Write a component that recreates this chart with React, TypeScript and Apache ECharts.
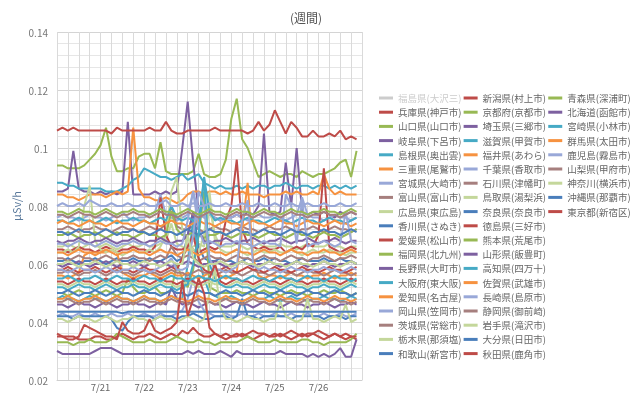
import React, { useEffect, useRef } from "react";
import * as echarts from "echarts";

// Tick labels / categories: 3-hourly points from 7/20 00:00 to 7/27 00:00
const days = ["7/20", "7/21", "7/22", "7/23", "7/24", "7/25", "7/26"];
const hours = ["00:00", "03:00", "06:00", "09:00", "12:00", "15:00", "18:00", "21:00"];
const categories: string[] = [];
days.forEach((d) => hours.forEach((h) => categories.push(d + " " + h)));
categories.push("7/27 00:00");

const names = [
  "福島県(大沢三)", "兵庫県(神戸市)", "山口県(山口市)", "岐阜県(下呂市)", "島根県(奥出雲)", "三重県(尾鷲市)",
  "宮城県(大崎市)", "富山県(富山市)", "広島県(東広島)", "香川県(さぬき)", "愛媛県(松山市)", "福岡県(北九州)",
  "長野県(大町市)", "大阪府(東大阪)", "愛知県(名古屋)", "岡山県(笠岡市)", "茨城県(常総市)", "栃木県(那須塩)",
  "和歌山(新宮市)", "新潟県(村上市)", "京都府(京都市)", "埼玉県(三郷市)", "滋賀県(甲賀市)", "福井県(あわら)",
  "千葉県(香取市)", "石川県(津幡町)", "鳥取県(湯梨浜)", "奈良県(奈良市)", "徳島県(三好市)", "熊本県(荒尾市)",
  "山形県(飯豊町)", "高知県(四万十)", "佐賀県(武雄市)", "長崎県(島原市)", "静岡県(御前崎)", "岩手県(滝沢市)",
  "大分県(日田市)", "秋田県(鹿角市)", "青森県(深浦町)", "北海道(函館市)", "宮崎県(小林市)", "群馬県(太田市)",
  "鹿児島(霧島市)", "山梨県(甲府市)", "神奈川(横浜市)", "沖縄県(那覇市)", "東京都(新宿区)",
];

// values in nSv/h (divide by 1000 for μSv/h)
const fukushima: number[] = [];
const hyogo = [36,35,35,35,34,34,34,35, 35,34,34,35,36,35,34,35, 35,36,35,34,35,36,35,37, 36,38,36,35,35,36,35,34, 35,35,36,35,34,35,36,35, 35,36,35,34,35,36,35,36, 35,34,35,36,35,34,35,34];
const yamaguchi = [94,94,93,93,93,94,96,98, 101,107,97,92,92,93,93,97, 98,98,93,102,92,91,91,91, 91,92,98,91,90,90,91,96, 110,117,103,100,95,90,91,92, 91,90,91,91,90,92,91,90, 91,91,92,93,95,96,90,99];
const gifu = [85,85,86,99,86,85,85,84, 85,84,85,84,85,109,84,84, 84,84,85,84,85,84,85,100, 116,95,78,76,77,76,75,76, 76,77,76,78,77,80,105,78, 77,78,95,80,100,78,77,78, 77,78,77,76,78,77,78,77];
const shimane = [88,88,87,87,86,86,86,86, 86,85,85,85,86,87,89,90, 93,92,91,90,90,89,90,91, 89,90,91,88,87,86,87,86, 86,87,86,87,86,87,87,86, 87,87,88,87,86,87,87,86, 87,87,86,87,86,87,86,87];
const mie = [84,84,83,83,82,83,84,84, 84,83,84,85,84,85,107,86, 83,83,82,82,83,82,81,82, 84,85,85,84,85,85,84,85, 84,84,85,84,84,84,83,84, 84,84,85,84,85,84,84,85, 84,91,86,84,85,84,84,84];
const miyagi = [76,77,76,76,75,76,77,76, 76,75,76,77,78,76,75,76, 76,77,78,84,77,76,75,76, 77,85,78,76,77,76,75,76, 76,77,76,75,76,77,76,76, 77,76,75,76,77,83,77,76, 76,75,76,77,76,76,75,76];
const toyama = [72,72,73,72,71,72,72,73, 72,72,71,72,73,72,72,71, 72,73,72,72,74,80,73,72, 72,73,72,71,72,73,72,72, 71,72,73,72,72,71,72,73, 72,72,73,72,71,72,72,73, 72,71,72,73,72,72,71,72];
const hiroshima = [66,66,67,66,65,66,67,66, 66,67,66,65,66,67,66,66, 67,66,66,67,68,74,67,66, 65,66,67,66,80,70,66,66, 66,67,66,65,66,67,66,66, 66,67,66,66,65,66,67,66, 66,66,67,66,66,65,66,66];
const kagawa = [61,61,62,61,60,61,61,62, 61,60,61,62,61,61,62,61, 61,62,61,61,62,63,61,62, 70,78,66,62,61,61,62,61, 61,60,61,62,61,61,62,61, 62,61,61,60,61,62,61,61, 61,62,61,61,62,61,61,60];
const ehime = [65,65,64,65,66,65,65,64, 65,66,65,64,65,65,66,65, 65,64,66,83,70,66,65,65, 66,65,64,65,66,65,66,75, 80,96,72,67,66,65,66,65, 65,66,64,65,66,65,67,66, 70,93,66,65,64,65,66,65];
const fukuoka = [50,50,49,50,51,50,50,49, 50,51,50,49,50,55,52,50, 50,51,52,50,50,51,60,55, 52,58,70,85,52,51,50,50, 50,51,50,50,49,50,51,50, 50,49,50,51,50,50,49,50, 50,51,50,50,51,50,49,50];
const nagano = [46,46,45,46,47,46,46,45, 46,47,46,45,46,46,47,46, 46,45,46,47,46,52,48,46, 47,46,45,46,47,46,46,45, 46,47,46,46,45,46,47,46, 46,45,46,47,46,46,45,46, 46,47,46,45,46,46,47,46];
const osaka = [48,49,48,48,47,48,49,48, 48,47,48,49,48,48,47,48, 49,48,48,47,48,49,48,48, 60,75,62,55,50,49,48,48, 49,48,47,48,49,48,48,49, 48,47,48,49,48,48,47,48, 48,49,48,48,47,48,49,48];
const aichi = [56,56,55,56,57,63,64,64, 64,64,65,64,57,56,55,56, 56,57,56,55,56,57,56,56, 57,56,55,56,57,56,56,55, 56,57,72,88,62,56,55,56, 56,55,56,57,56,56,55,56, 56,57,56,55,56,56,57,56];
const okayama = [42,43,42,42,43,42,42,43, 42,42,43,42,42,43,42,42, 43,42,42,43,42,42,43,44, 48,55,47,44,43,42,42,43, 42,42,43,42,42,43,42,42, 43,42,42,43,42,42,43,42, 42,43,42,42,43,42,42,43];
const ibaraki = [62,62,61,62,63,62,62,61, 62,63,62,61,62,62,63,62, 62,61,62,63,62,66,63,62, 63,62,61,62,63,62,62,61, 62,63,62,62,61,62,63,62, 62,61,62,63,62,62,61,62, 62,63,62,61,62,62,63,62];
const tochigi = [64,64,65,64,66,80,87,68, 65,64,65,64,63,64,65,64, 64,65,64,66,70,85,90,72, 66,65,64,70,85,68,65,64, 64,65,64,63,64,65,64,64, 65,64,64,65,64,63,64,65, 64,64,65,64,64,63,64,64];
const wakayama = [42,42,42,41,42,42,42,42, 42,42,41,38,37,40,42,42, 42,42,41,42,42,42,41,42, 42,43,42,41,41,42,42,42, 41,42,48,42,42,41,42,42, 42,42,42,41,42,42,42,42, 42,41,42,42,42,41,42,42];
const niigata = [106,107,106,107,106,106,106,106, 106,106,105,107,106,106,106,106, 106,107,106,106,109,106,105,105, 106,106,106,106,106,107,106,106, 106,106,106,105,106,109,106,108, 113,109,105,109,107,104,104,106, 104,104,105,104,106,103,104,103];
const kyoto = [70,70,71,70,69,70,70,71, 70,69,70,71,70,70,69,70, 71,70,70,69,70,78,72,70, 70,71,70,69,70,70,71,70, 69,70,71,70,70,69,70,71, 70,70,69,70,71,70,70,69, 70,71,70,70,69,70,71,72];
const saitama = [68,67,68,68,69,68,67,68, 68,69,68,67,68,68,69,68, 67,68,68,69,68,67,68,68, 70,78,72,68,67,68,68,69, 68,67,68,68,69,68,67,68, 68,69,68,67,68,68,69,68, 67,68,68,69,68,67,68,68];
const shiga = [75,75,74,75,76,75,75,74, 75,76,75,74,75,75,76,75, 75,74,75,76,75,80,76,75, 76,75,74,90,78,75,76,75, 75,74,75,76,75,75,74,75, 76,75,75,74,75,76,75,75, 74,75,76,75,75,74,75,76];
const fukui = [74,75,74,74,73,74,75,74, 74,73,74,75,74,74,73,74, 75,74,74,73,74,75,74,74, 73,74,75,74,74,73,74,75, 74,74,73,74,75,74,74,73, 74,75,74,74,73,74,75,74, 74,73,74,75,74,74,73,74];
const chiba = [67,67,66,67,68,67,67,66, 67,68,67,66,67,67,68,67, 67,66,67,68,67,67,66,67, 75,85,72,67,68,67,66,67, 67,68,67,67,66,67,68,67, 67,66,84,80,67,82,66,67, 67,68,67,66,67,78,68,67];
const ishikawa = [57,57,58,57,56,57,57,58, 57,56,57,58,57,57,56,57, 58,57,57,56,57,58,57,57, 56,57,58,57,57,56,57,58, 57,57,56,57,58,57,57,56, 57,58,57,57,56,57,58,57, 57,56,57,58,57,57,56,57];
const tottori = [53,53,52,53,54,53,53,52, 53,54,53,52,53,53,54,53, 53,52,53,54,53,53,52,53, 54,53,52,53,54,53,53,52, 53,54,53,53,52,53,54,53, 53,52,53,54,53,53,52,53, 53,54,53,53,52,53,54,53];
const nara = [71,71,70,71,72,71,71,70, 71,72,71,70,71,71,72,71, 71,70,71,72,71,71,70,71, 72,71,70,71,72,71,71,70, 71,72,71,71,70,71,72,71, 71,70,71,72,71,71,70,71, 71,72,71,71,70,71,72,71];
const tokushima = [58,58,59,58,57,58,58,59, 58,57,58,59,58,58,57,58, 59,58,58,57,58,59,58,62, 66,70,62,58,57,58,58,59, 58,57,58,59,58,58,57,58, 59,58,58,57,58,59,58,58, 57,58,59,58,58,57,58,59];
const kumamoto = [33,33,33,32,33,33,34,33, 33,33,34,36,35,34,33,33, 33,34,33,33,33,34,35,34, 33,33,34,33,33,32,33,33, 33,33,34,35,34,33,33,33, 34,33,33,33,33,34,34,33, 33,32,33,33,33,33,34,36];
const yamagata = [60,59,60,60,61,60,59,60, 60,61,60,59,60,60,61,60, 59,60,60,61,60,59,60,60, 61,60,59,60,60,61,60,59, 60,60,61,60,59,60,60,61, 60,59,60,60,61,60,59,60, 60,61,60,59,60,60,61,60];
const kochi = [52,52,51,52,53,52,52,51, 52,53,52,51,52,52,53,52, 52,51,52,53,52,52,51,52, 53,60,70,90,60,55,53,52, 52,53,52,52,51,52,53,52, 52,51,52,53,52,52,51,52, 52,53,52,52,51,52,53,52];
const saga = [64,64,63,64,65,64,64,63, 64,65,64,63,64,64,65,64, 64,63,64,65,64,64,63,64, 65,64,63,64,65,64,64,63, 64,65,64,64,63,64,65,64, 64,63,64,65,64,64,63,64, 64,65,64,64,63,64,65,64];
const nagasaki = [58,58,57,58,59,58,58,57, 58,59,58,57,58,58,59,58, 58,57,58,59,60,62,58,58, 59,70,85,80,62,58,58,57, 58,59,75,82,60,58,59,58, 58,57,58,59,58,58,57,58, 58,59,58,58,57,58,59,58];
const shizuoka = [47,47,48,47,46,47,47,48, 47,46,47,48,47,47,46,47, 48,47,47,46,47,48,47,47, 46,47,48,47,47,46,47,48, 47,47,46,47,48,47,47,46, 47,48,47,47,46,47,48,47, 47,46,47,48,47,47,46,47];
const iwate = [41,41,40,41,42,41,41,40, 41,42,41,40,41,41,42,41, 41,40,41,42,41,41,40,41, 42,41,40,41,50,58,45,41, 41,40,41,42,41,41,40,41, 41,47,42,41,40,41,48,41, 41,40,41,42,41,46,40,41];
const oita = [50,50,51,50,49,50,50,51, 50,49,50,51,50,50,49,50, 51,50,50,49,50,51,50,50, 49,50,51,50,50,49,50,51, 50,50,49,50,51,50,50,49, 50,51,50,50,49,50,51,50, 50,49,50,51,50,50,49,50];
const akita = [54,54,53,54,55,54,54,53, 54,55,54,53,54,54,55,54, 54,53,54,55,54,54,53,54, 55,54,53,54,55,60,54,53, 54,55,54,54,53,54,55,54, 54,53,54,55,54,54,53,54, 54,55,54,54,53,54,55,54];
const aomori = [78,78,77,78,79,78,78,77, 78,79,78,77,78,78,79,78, 78,77,78,79,78,78,77,78, 79,78,77,78,79,78,78,77, 78,79,78,78,77,78,79,78, 78,77,78,79,78,78,77,78, 78,79,78,78,77,78,79,78];
const hokkaido = [30,29,29,29,29,29,29,30, 31,31,31,30,29,29,29,29, 29,29,29,29,29,29,29,29, 30,29,30,29,29,29,30,29, 28,30,29,29,29,29,29,29, 29,30,29,29,29,29,28,29, 28,29,28,29,31,28,28,34];
const miyazaki = [55,55,56,55,54,55,55,56, 55,54,55,56,55,55,54,55, 56,55,55,54,55,56,55,55, 54,55,56,55,55,54,55,56, 55,55,54,55,56,55,55,54, 55,56,55,55,54,55,56,55, 55,54,55,56,55,55,54,55];
const gunma = [48,48,49,48,47,48,48,49, 48,47,48,49,48,48,47,48, 49,48,48,47,48,49,48,48, 47,48,49,48,48,47,48,49, 48,48,47,48,49,48,48,47, 48,49,48,48,47,48,49,48, 48,47,48,49,48,48,47,48];
const kagoshima = [80,81,80,80,81,80,82,81, 80,80,81,80,80,81,80,80, 81,80,80,81,82,80,80,81, 80,81,80,80,81,80,80,81, 80,80,81,80,80,81,80,80, 81,80,80,81,80,80,81,80, 80,81,80,80,81,80,80,81];
const yamanashi = [77,77,76,77,78,77,77,76, 77,78,77,76,77,77,78,77, 77,76,77,78,77,77,76,77, 78,77,76,77,78,77,77,76, 77,78,77,77,76,77,78,77, 77,76,77,78,77,77,76,77, 77,78,77,77,76,77,78,77];
const kanagawa = [60,60,61,60,59,60,60,61, 60,59,60,61,60,60,59,60, 61,60,60,59,60,61,60,60, 70,62,60,59,60,60,61,60, 59,60,61,60,60,59,60,61, 60,60,59,60,61,60,60,59, 60,61,60,60,59,60,61,60];
const okinawa = [43.5,43.5,43.5,43.5,43.5,43.5,43.5,43.5, 43.5,43.5,43.5,43.5,43,43.5,43.5,43.5, 43.5,43.5,43.5,43.5,43.5,43.5,43.5,43.5, 43.5,43.5,43.5,43.5,43.5,43.5,43.5,43.5, 43.5,43.5,43.5,43.5,43.5,43.5,43.5,43.5, 43.5,43.5,43.5,43.5,43.5,43.5,43.5,43.5, 43.5,43.5,43.5,43.5,43.5,43.5,43.5,43.5];
const tokyo = [35,35,34,34,35,39,38,37, 36,35,35,34,40,37,36,36, 37,41,37,36,37,38,40,54, 42,48,55,50,38,36,35,36, 35,36,35,36,37,36,36,35, 36,35,36,37,36,35,36,36, 37,36,35,36,35,36,35,35];

const seriesValues = [
  fukushima, hyogo, yamaguchi, gifu, shimane, mie, miyagi, toyama, hiroshima, kagawa, ehime, fukuoka,
  nagano, osaka, aichi, okayama, ibaraki, tochigi, wakayama, niigata, kyoto, saitama, shiga, fukui,
  chiba, ishikawa, tottori, nara, tokushima, kumamoto, yamagata, kochi, saga, nagasaki, shizuoka, iwate,
  oita, akita, aomori, hokkaido, miyazaki, gunma, kagoshima, yamanashi, kanagawa, okinawa, tokyo,
];

const palette = ["#4a7ebb", "#be4b48", "#98b954", "#7d60a0", "#46aac5", "#f69240", "#99a8d8", "#a67f7e", "#c4d79b"];

export default function App() {
  const ref = useRef<HTMLDivElement>(null);
  useEffect(() => {
    if (!ref.current) return;
    const chart = echarts.init(ref.current, undefined, { renderer: "svg" });
    const font = '"Noto Sans CJK JP", "Noto Sans", sans-serif';
    chart.setOption({
      animation: false,
      color: palette,
      textStyle: { fontFamily: font },
      title: {
        text: "(週間)",
        left: 285,
        top: 6,
        textStyle: { fontSize: 12, fontWeight: "normal", color: "#555", fontFamily: font },
      },
      grid: { left: 57, top: 32, width: 305, height: 348 },
      legend: {
        type: "plain",
        orient: "vertical",
        left: 374,
        top: 87,
        height: 272,
        itemWidth: 14,
        itemHeight: 3,
        itemGap: 2.2,
        icon: "rect",
        inactiveColor: "#ccc",
        selected: { "福島県(大沢三)": false },
        textStyle: { fontSize: 9.5, color: "#666", lineHeight: 12, fontFamily: font },
        data: names,
      },
      xAxis: {
        type: "category",
        data: categories,
        boundaryGap: false,
        axisTick: { show: false },
        axisLine: { lineStyle: { color: "#cfcfcf" } },
        axisLabel: {
          interval: (i: number) => i % 8 === 0 && i > 0 && i < 56,
          formatter: (v: string) => v.split(" ")[0],
          color: "#666",
          fontSize: 9.5,
          lineHeight: 10,
          margin: 2,
        },
        splitLine: { show: true, interval: (i: number) => i % 2 === 0, lineStyle: { color: "#dadada" } },
      },
      yAxis: {
        type: "value",
        min: 0.02,
        max: 0.14,
        interval: 0.02,
        name: "μSv/h",
        nameLocation: "middle",
        nameGap: 36,
        nameTextStyle: { color: "#5b7a9c", fontSize: 11 },
        axisLine: { show: false },
        axisTick: { show: false },
        axisLabel: { color: "#777", fontSize: 10, margin: 9 },
        splitLine: { lineStyle: { color: "#d4d4d4" } },
        minorTick: { show: false, splitNumber: 5 },
        minorSplitLine: { show: true, lineStyle: { color: "#e6e6e6" } },
      },
      series: names.map((n, k) => ({
        name: n,
        type: "line",
        data: seriesValues[k].map((v) => v / 1000),
        symbol: "none",
        showSymbol: false,
        lineStyle: { width: 2 },
        emphasis: { disabled: true },
      })),
    });
    return () => chart.dispose();
  }, []);
  return <div ref={ref} style={{ position: "fixed", left: 0, top: 0, width: 640, height: 395 }} />;
}
